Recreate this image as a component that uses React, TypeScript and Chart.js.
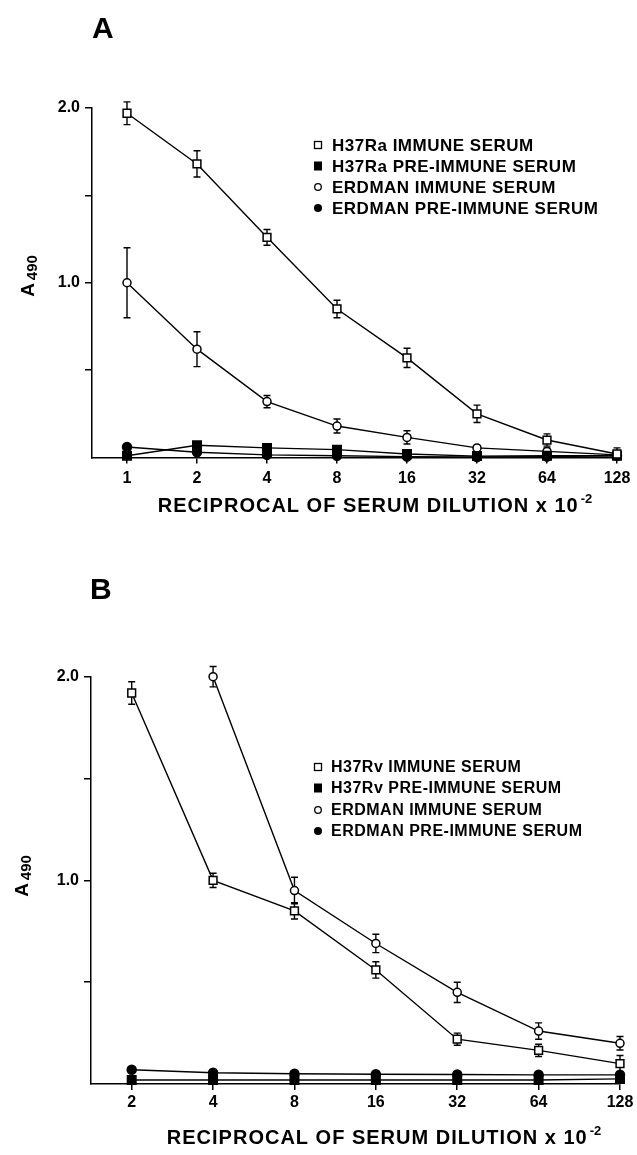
import React, { useEffect, useRef } from 'react';
import { Chart, registerables } from 'chart.js';

Chart.register(...registerables);

// ---------- DATA ----------
const A_DILUTIONS = ['1', '2', '4', '8', '16', '32', '64', '128'];
const A_H37RA_IMMUNE = [1.97, 1.68, 1.26, 0.85, 0.57, 0.25, 0.1, 0.02];
const A_H37RA_IMMUNE_ERR = [0.065, 0.075, 0.045, 0.05, 0.055, 0.05, 0.035, 0.035];
const A_H37RA_PRE = [0.01, 0.07, 0.055, 0.045, 0.02, 0.008, 0.01, 0.01];
const A_ERDMAN_IMMUNE = [1.0, 0.62, 0.32, 0.18, 0.115, 0.055, 0.035, 0.015];
const A_ERDMAN_IMMUNE_ERR = [0.2, 0.1, 0.035, 0.04, 0.038, 0, 0.02, 0.02];
const A_ERDMAN_PRE = [0.06, 0.03, 0.015, 0.01, 0.005, 0.003, 0.005, 0.01];

const B_DILUTIONS = ['2', '4', '8', '16', '32', '64', '128'];
const B_H37RV_IMMUNE = [1.92, 1.0, 0.85, 0.56, 0.22, 0.165, 0.1];
const B_H37RV_IMMUNE_ERR = [0.055, 0.035, 0.04, 0.04, 0.03, 0.03, 0.04];
const B_H37RV_PRE = [0.02, 0.02, 0.02, 0.02, 0.02, 0.02, 0.025];
const B_ERDMAN_IMMUNE = [null, 2.0, 0.95, 0.69, 0.45, 0.26, 0.2];
const B_ERDMAN_IMMUNE_ERR = [null, 0.05, 0.065, 0.045, 0.05, 0.04, 0.033];
const B_ERDMAN_PRE = [0.07, 0.055, 0.05, 0.048, 0.047, 0.045, 0.045];

const Y_TICKS = [0.5, 1.0, 1.5, 2.0];
const Y_LABELED = [1.0, 2.0];

const X_TITLE = 'RECIPROCAL OF SERUM DILUTION x 10';
const X_TITLE_SUP = '-2';

// ---------- STYLE ----------
const FONT = "'Liberation Sans', Arial, Helvetica, sans-serif";

type Marker = 'openSquare' | 'filledSquare' | 'openCircle' | 'filledCircle';

interface Series {
  label: string;
  values: (number | null)[];
  errors?: (number | null)[];
  marker: Marker;
}

interface PanelCfg {
  letter: string;
  letterX: number;
  letterY: number;
  labels: string[];
  series: Series[];
  top: number;
  canvasH: number;
  padding: { left: number; top: number; right: number; bottom: number };
  xTickPad: number;
  legendMarkerX: number;
  legendTextX: number;
  legendRows: number[];
  legendFont: number;
  yTitleX: number;
  yTitleY: number;
  xTitleCX: number;
  xTitleBaseline: number;
  xTitleFont: number;
}

function markerOpts(m: Marker) {
  switch (m) {
    case 'openSquare':
      return { pointStyle: 'rect', pointRadius: 5.5, pointBackgroundColor: '#fff' };
    case 'filledSquare':
      return { pointStyle: 'rect', pointRadius: 6, pointBackgroundColor: '#000' };
    case 'openCircle':
      return { pointStyle: 'circle', pointRadius: 4, pointBackgroundColor: '#fff' };
    case 'filledCircle':
    default:
      return { pointStyle: 'circle', pointRadius: 4.5, pointBackgroundColor: '#000' };
  }
}

function drawLegendMarker(ctx: CanvasRenderingContext2D, m: Marker, x: number, y: number) {
  ctx.save();
  ctx.lineWidth = 1.3;
  ctx.strokeStyle = '#000';
  ctx.fillStyle = '#000';
  if (m === 'openSquare') {
    ctx.fillStyle = '#fff';
    ctx.fillRect(x - 3.5, y - 3.5, 7, 7);
    ctx.strokeRect(x - 3.5, y - 3.5, 7, 7);
  } else if (m === 'filledSquare') {
    ctx.fillRect(x - 4, y - 4.5, 8, 9);
  } else if (m === 'openCircle') {
    ctx.fillStyle = '#fff';
    ctx.beginPath();
    ctx.arc(x, y, 3.3, 0, Math.PI * 2);
    ctx.fill();
    ctx.stroke();
  } else {
    ctx.beginPath();
    ctx.arc(x, y, 4, 0, Math.PI * 2);
    ctx.fill();
  }
  ctx.restore();
}

const PANEL_A: PanelCfg = {
  letter: 'A',
  letterX: 92,
  letterY: 38,
  labels: A_DILUTIONS,
  series: [
    { label: 'H37Ra IMMUNE SERUM', values: A_H37RA_IMMUNE, errors: A_H37RA_IMMUNE_ERR, marker: 'openSquare' },
    { label: 'H37Ra PRE-IMMUNE SERUM', values: A_H37RA_PRE, marker: 'filledSquare' },
    { label: 'ERDMAN IMMUNE SERUM', values: A_ERDMAN_IMMUNE, errors: A_ERDMAN_IMMUNE_ERR, marker: 'openCircle' },
    { label: 'ERDMAN PRE-IMMUNE SERUM', values: A_ERDMAN_PRE, marker: 'filledCircle' },
  ],
  top: 0,
  canvasH: 540,
  padding: { left: 32, top: 108, right: 20, bottom: 42.5 },
  xTickPad: 5,
  legendMarkerX: 318,
  legendTextX: 332,
  legendRows: [145, 166, 187, 208],
  legendFont: 17,
  yTitleX: 28,
  yTitleY: 276,
  xTitleCX: 375,
  xTitleBaseline: 512,
  xTitleFont: 20,
};

const PANEL_B: PanelCfg = {
  letter: 'B',
  letterX: 90,
  letterY: 599,
  labels: B_DILUTIONS,
  series: [
    { label: 'H37Rv IMMUNE SERUM', values: B_H37RV_IMMUNE, errors: B_H37RV_IMMUNE_ERR, marker: 'openSquare' },
    { label: 'H37Rv PRE-IMMUNE SERUM', values: B_H37RV_PRE, marker: 'filledSquare' },
    { label: 'ERDMAN IMMUNE SERUM', values: B_ERDMAN_IMMUNE, errors: B_ERDMAN_IMMUNE_ERR, marker: 'openCircle' },
    { label: 'ERDMAN PRE-IMMUNE SERUM', values: B_ERDMAN_PRE, marker: 'filledCircle' },
  ],
  top: 540,
  canvasH: 615,
  padding: { left: 31, top: 136.7, right: 17, bottom: 31 },
  xTickPad: 3,
  legendMarkerX: 318,
  legendTextX: 331,
  legendRows: [767, 788, 810, 831],
  legendFont: 16,
  yTitleX: 22,
  yTitleY: 876,
  xTitleCX: 384,
  xTitleBaseline: 1144,
  xTitleFont: 20,
};

function makeErrorBarPlugin(cfg: PanelCfg) {
  return {
    id: 'errorBars' + cfg.letter,
    beforeDatasetsDraw(chart: any) {
      const ctx: CanvasRenderingContext2D = chart.ctx;
      const xs = chart.scales.x;
      const ys = chart.scales.y;
      ctx.save();
      ctx.strokeStyle = '#000';
      ctx.lineWidth = 1.4;
      cfg.series.forEach((s) => {
        if (!s.errors) return;
        s.values.forEach((v, i) => {
          const e = s.errors![i];
          if (v == null || e == null || e <= 0) return;
          const x = xs.getPixelForValue(i);
          const yt = ys.getPixelForValue(v + e);
          const yb = ys.getPixelForValue(Math.max(0, v - e));
          ctx.beginPath();
          ctx.moveTo(x, yt);
          ctx.lineTo(x, yb);
          ctx.moveTo(x - 3.5, yt);
          ctx.lineTo(x + 3.5, yt);
          ctx.moveTo(x - 3.5, yb);
          ctx.lineTo(x + 3.5, yb);
          ctx.stroke();
        });
      });
      ctx.restore();
    },
  };
}

function makeDecorPlugin(cfg: PanelCfg) {
  return {
    id: 'decor' + cfg.letter,
    afterDraw(chart: any) {
      const ctx: CanvasRenderingContext2D = chart.ctx;
      const off = cfg.top;
      ctx.save();
      ctx.fillStyle = '#000';
      ctx.textAlign = 'left';
      ctx.textBaseline = 'alphabetic';

      // panel letter
      ctx.font = `bold 30px ${FONT}`;
      ctx.fillText(cfg.letter, cfg.letterX, cfg.letterY - off);

      // legend
      ctx.textBaseline = 'middle';
      ctx.font = `bold ${cfg.legendFont}px ${FONT}`;
      (ctx as any).letterSpacing = '0.5px';
      cfg.series.forEach((s, i) => {
        const y = cfg.legendRows[i] - off;
        drawLegendMarker(ctx, s.marker, cfg.legendMarkerX, y);
        ctx.fillText(s.label, cfg.legendTextX, y + 1);
      });

      // x axis title with superscript
      ctx.textBaseline = 'alphabetic';
      (ctx as any).letterSpacing = '1px';
      ctx.font = `bold ${cfg.xTitleFont}px ${FONT}`;
      const wMain = ctx.measureText(X_TITLE).width;
      ctx.font = `bold 13px ${FONT}`;
      (ctx as any).letterSpacing = '0px';
      const wSup = ctx.measureText(X_TITLE_SUP).width;
      const total = wMain + 2 + wSup;
      const sx = cfg.xTitleCX - total / 2;
      (ctx as any).letterSpacing = '1px';
      ctx.font = `bold ${cfg.xTitleFont}px ${FONT}`;
      ctx.fillText(X_TITLE, sx, cfg.xTitleBaseline - off);
      (ctx as any).letterSpacing = '0px';
      ctx.font = `bold 13px ${FONT}`;
      ctx.fillText(X_TITLE_SUP, sx + wMain + 2, cfg.xTitleBaseline - off - 9);

      // y axis title "A490" rotated
      ctx.translate(cfg.yTitleX, cfg.yTitleY - off);
      ctx.rotate(-Math.PI / 2);
      ctx.font = `bold 19px ${FONT}`;
      const wA = ctx.measureText('A').width;
      ctx.font = `bold 15px ${FONT}`;
      const wN = ctx.measureText('490').width;
      const tot = wA + 3 + wN;
      ctx.font = `bold 19px ${FONT}`;
      ctx.fillText('A', -tot / 2, 6);
      ctx.font = `bold 15px ${FONT}`;
      ctx.fillText('490', -tot / 2 + wA + 3, 9);
      ctx.restore();
    },
  };
}

const Panel: React.FC<{ cfg: PanelCfg }> = ({ cfg }) => {
  const ref = useRef<HTMLCanvasElement>(null);

  useEffect(() => {
    const canvas = ref.current;
    if (!canvas) return;
    const idx = cfg.labels.map((_, i) => i);
    const datasets = cfg.series.map((s) => {
      const m = markerOpts(s.marker);
      return {
        label: s.label,
        data: s.values.map((v, i) => ({ x: i, y: v })),
        borderColor: '#000',
        borderWidth: 1.4,
        pointBorderColor: '#000',
        pointBorderWidth: 1.5,
        pointBackgroundColor: m.pointBackgroundColor,
        pointStyle: m.pointStyle,
        pointRadius: m.pointRadius,
        pointHoverRadius: m.pointRadius,
        tension: 0,
        fill: false,
        clip: false,
        spanGaps: false,
      };
    });

    const tickFont = { family: FONT, size: 16, weight: 'bold' as const };

    const chart = new Chart(canvas, {
      type: 'line',
      data: { datasets: datasets as any },
      options: {
        animation: false,
        responsive: false,
        maintainAspectRatio: false,
        devicePixelRatio: 1,
        events: [],
        layout: { padding: cfg.padding },
        plugins: {
          legend: { display: false },
          tooltip: { enabled: false },
          title: { display: false },
        },
        scales: {
          x: {
            type: 'linear',
            min: -0.5,
            max: cfg.labels.length - 1,
            afterBuildTicks: (s: any) => {
              s.ticks = idx.map((v) => ({ value: v }));
            },
            afterFit: (s: any) => {
              s.height = 40;
            },
            ticks: {
              autoSkip: false,
              maxRotation: 0,
              padding: cfg.xTickPad,
              color: '#000',
              font: tickFont,
              callback: (v: any) => cfg.labels[Number(v)] ?? '',
            },
            grid: {
              display: true,
              drawOnChartArea: false,
              drawTicks: true,
              tickLength: 6,
              tickColor: '#000',
              tickWidth: 1.5,
              color: '#000',
              lineWidth: 1.5,
            },
            border: { display: true, color: '#000', width: 1.5 },
          },
          y: {
            type: 'linear',
            min: 0,
            max: 2,
            afterBuildTicks: (s: any) => {
              s.ticks = Y_TICKS.map((v) => ({ value: v }));
            },
            afterFit: (s: any) => {
              s.width = 60;
            },
            ticks: {
              padding: 5,
              color: '#000',
              font: tickFont,
              callback: (v: any) => (Y_LABELED.includes(Number(v)) ? Number(v).toFixed(1) : ''),
            },
            grid: {
              display: true,
              drawOnChartArea: false,
              drawTicks: true,
              tickLength: 7,
              tickColor: '#000',
              tickWidth: 1.5,
              color: '#000',
              lineWidth: 1.5,
            },
            border: { display: true, color: '#000', width: 1.5 },
          },
        },
      } as any,
      plugins: [makeErrorBarPlugin(cfg), makeDecorPlugin(cfg)],
    });

    return () => {
      chart.destroy();
    };
  }, [cfg]);

  return (
    <canvas
      ref={ref}
      width={637}
      height={cfg.canvasH}
      style={{ position: 'absolute', left: 0, top: cfg.top, width: 637, height: cfg.canvasH, display: 'block' }}
    />
  );
};

export default function App() {
  return (
    <div style={{ position: 'absolute', left: 0, top: 0, width: 637, height: 1155, background: '#fff', overflow: 'hidden' }}>
      <Panel cfg={PANEL_A} />
      <Panel cfg={PANEL_B} />
    </div>
  );
}
